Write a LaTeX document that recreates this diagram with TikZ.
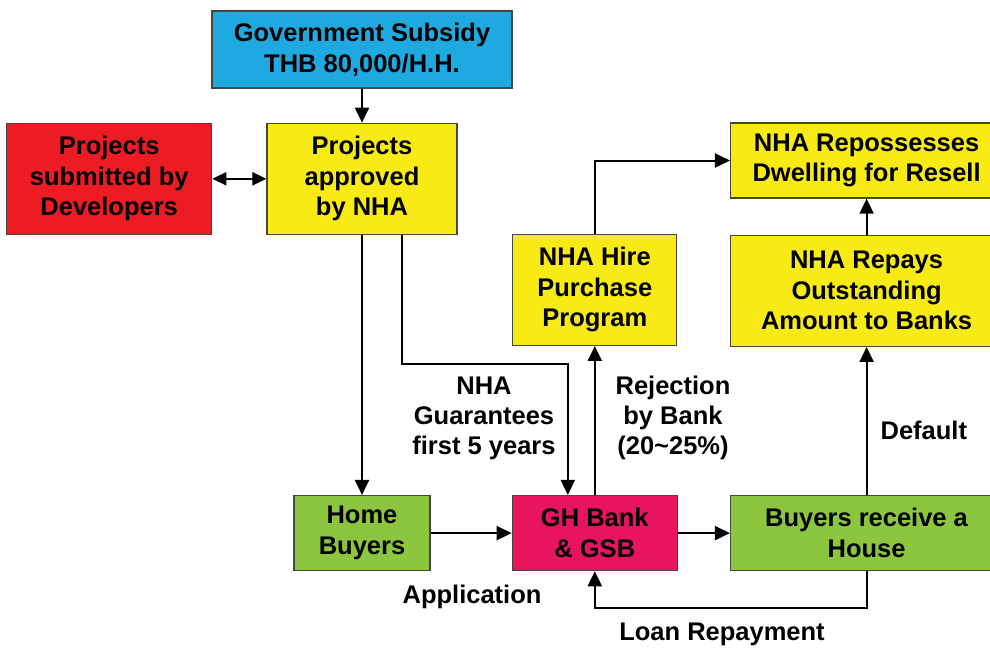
\documentclass[tikz,border=0pt]{standalone}
\usepackage{fontspec}
\setmainfont{Liberation Sans}
\usepackage{tikz}
\usetikzlibrary{arrows.meta, positioning}
\definecolor{subsidyBlue}{RGB}{30, 170, 225}
\definecolor{devRed}{RGB}{237, 28, 36}
\definecolor{nhaYellow}{RGB}{248, 234, 20}
\definecolor{buyerGreen}{RGB}{140, 198, 63}
\definecolor{bankPink}{RGB}{233, 20, 95}
\definecolor{boxBorder}{RGB}{70, 70, 60}

\begin{document}
\begin{tikzpicture}[x=1pt, y=1pt,
  box/.style={rectangle, draw=boxBorder, line width=1.3pt, inner sep=0pt,
              align=center, font=\fontsize{25.5}{30.5}\selectfont\bfseries},
  bigbox/.style={box, minimum height=111pt},
  smallbox/.style={box, minimum height=75pt},
  arrow/.style={-{Triangle[length=15pt, width=14pt]}, line width=2pt},
  twoway/.style={{Triangle[length=14pt, width=13pt]}-{Triangle[length=14pt, width=13pt]}, line width=2pt},
  label/.style={align=center, inner sep=0pt, font=\fontsize{25.5}{30}\selectfont\bfseries},
]
  \useasboundingbox (0,0) rectangle (990,-648);
  \clip (0,0) rectangle (990,-648);

  \node[box, fill=subsidyBlue, minimum width=300pt, minimum height=77pt] (gov) at (362,-49.5) {Government Subsidy\\THB 80,000/H.H.};
  \node[bigbox, fill=nhaYellow, minimum width=190pt, below=34pt of gov] (approved) {Projects\\approved\\by NHA};
  \node[bigbox, fill=devRed, minimum width=205pt, left=54pt of approved] (developers) {Projects\\submitted by\\Developers};

  \node[smallbox, fill=buyerGreen, minimum width=136pt, below=260pt of approved] (home) {Home\\Buyers};
  \node[smallbox, fill=bankPink, minimum width=165pt, right=81pt of home] (bank) {GH Bank\\\& GSB};
  \node[smallbox, fill=buyerGreen, minimum width=272pt, right=52pt of bank] (house) {Buyers receive a\\House};

  \node[bigbox, fill=nhaYellow, minimum width=164pt, above=149pt of bank] (hire) {NHA Hire\\Purchase\\Program};
  \node[bigbox, fill=nhaYellow, minimum width=272pt, above=148pt of house] (repays) {NHA Repays\\Outstanding\\Amount to Banks};
  \node[smallbox, fill=nhaYellow, minimum width=272pt, above=36pt of repays] (reposs) {NHA Repossesses\\Dwelling for Resell};

  \draw[arrow] (gov) -- (approved);
  \draw[twoway] (developers) -- (approved);
  \draw[arrow] (approved) -- (home);
  \draw[arrow] ([xshift=40pt]approved.south) -- ++(0,-129) -| ([xshift=-27pt]bank.north);
  \draw[arrow] (home) -- (bank);
  \draw[arrow] (bank) -- (house);
  \draw[arrow] (bank.north) -- (hire.south);
  \draw[arrow] (hire.north) |- (reposs.west);
  \draw[arrow] (house.north) -- node[label, right=13pt, yshift=-9pt] (default) {Default} (repays.south);
  \draw[arrow] (repays) -- (reposs);
  \draw[arrow] (house.south) -- ++(0,-37) -| (bank.south);

  \node[label] (guarantee) at (484,-418) {NHA\\Guarantees\\first 5 years};
  \node[label] (rejection) at (673,-418) {Rejection\\by Bank\\(20\textasciitilde 25\%)};
  \node[label] (application) at (472,-597) {Application};
  \node[label] (loan) at (722,-634) {Loan Repayment};
\end{tikzpicture}
\end{document}
